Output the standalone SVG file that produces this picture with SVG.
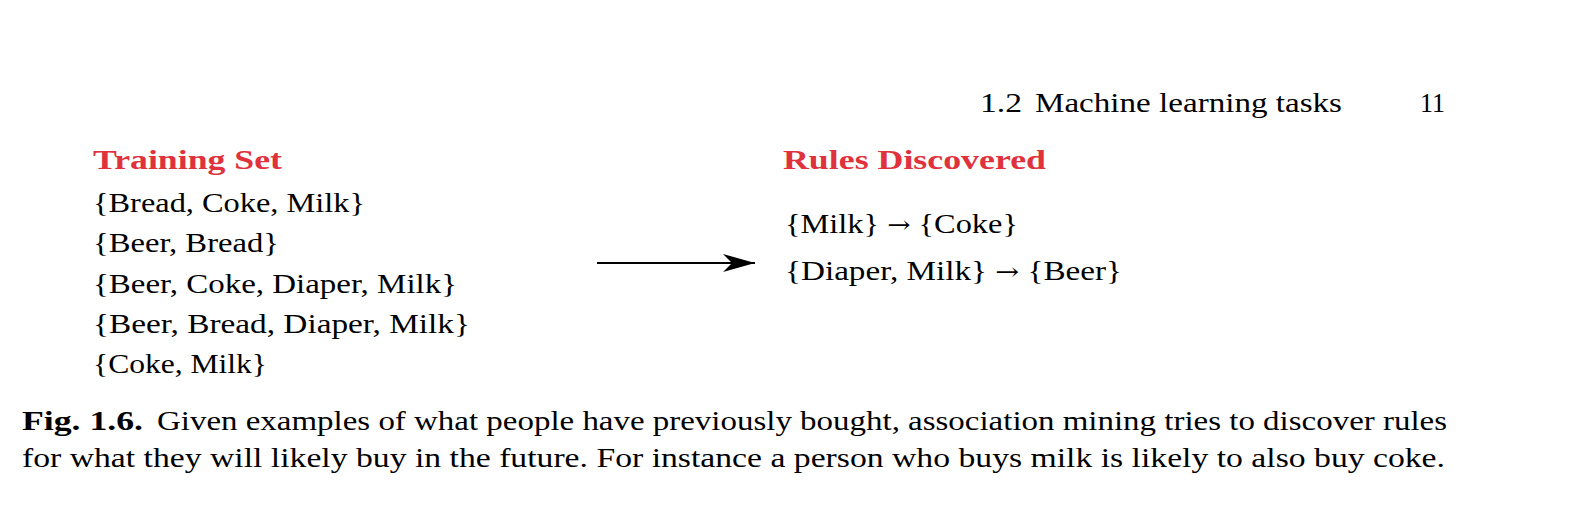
<svg xmlns="http://www.w3.org/2000/svg" width="1590" height="532" viewBox="0 0 1590 532">
<style>
text{font-family:"Liberation Serif","Times New Roman",serif;font-size:28px;fill:#000}
.h{font-weight:bold;fill:#e0323c}
.b{font-weight:bold}
.ar{font-family:"DejaVu Serif",serif;font-size:24px}
</style>
<defs>
<marker id="stealth" markerUnits="userSpaceOnUse" markerWidth="34" markerHeight="22" refX="32" refY="11" orient="auto">
<path d="M0,2 L32,11 L0,20 L9,11 Z" fill="#000"/>
</marker>
</defs>
<rect width="1590" height="532" fill="#fff"/>
<g id="header">
<text x="980" y="112" textLength="42" lengthAdjust="spacingAndGlyphs">1.2</text>
<text x="1035" y="112" textLength="307" lengthAdjust="spacingAndGlyphs">Machine learning tasks</text>
<text x="1420" y="112" textLength="25" lengthAdjust="spacingAndGlyphs">11</text>
</g>
<g id="training-set">
<text class="h" x="93" y="169" textLength="189" lengthAdjust="spacingAndGlyphs">Training Set</text>
<text x="93" y="212" textLength="272" lengthAdjust="spacingAndGlyphs">{Bread, Coke, Milk}</text>
<text x="93" y="252" textLength="186" lengthAdjust="spacingAndGlyphs">{Beer, Bread}</text>
<text x="93" y="293" textLength="364" lengthAdjust="spacingAndGlyphs">{Beer, Coke, Diaper, Milk}</text>
<text x="93" y="333" textLength="377" lengthAdjust="spacingAndGlyphs">{Beer, Bread, Diaper, Milk}</text>
<text x="93" y="373" textLength="174" lengthAdjust="spacingAndGlyphs">{Coke, Milk}</text>
</g>
<g id="connectors">
<line x1="597" y1="263" x2="755" y2="263" stroke="#000" stroke-width="2" marker-end="url(#stealth)"/>
</g>
<g id="rules-discovered">
<text class="h" x="783" y="169" textLength="263" lengthAdjust="spacingAndGlyphs">Rules Discovered</text>
<text x="785" y="233" textLength="233" lengthAdjust="spacingAndGlyphs">{Milk} <tspan class="ar">→</tspan> {Coke}</text>
<text x="785" y="280" textLength="337" lengthAdjust="spacingAndGlyphs">{Diaper, Milk} <tspan class="ar">→</tspan> {Beer}</text>
</g>
<g id="caption">
<text class="b" x="22" y="430" textLength="121" lengthAdjust="spacingAndGlyphs">Fig. 1.6.</text>
<text x="157" y="430" textLength="1290" lengthAdjust="spacingAndGlyphs">Given examples of what people have previously bought, association mining tries to discover rules</text>
<text x="22" y="467" textLength="1423" lengthAdjust="spacingAndGlyphs">for what they will likely buy in the future. For instance a person who buys milk is likely to also buy coke.</text>
</g>
</svg>
